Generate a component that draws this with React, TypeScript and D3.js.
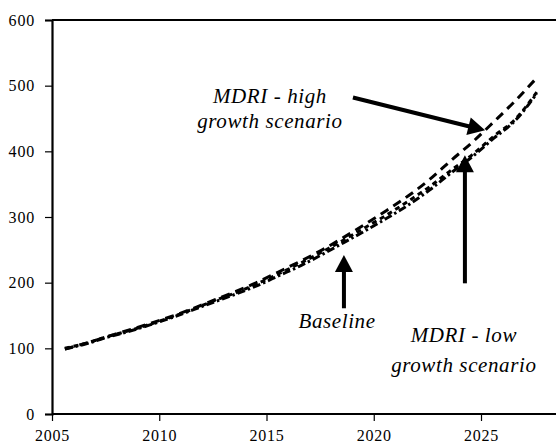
import { useEffect, useRef } from 'react';
import * as d3 from 'd3';

// values are plotted at mid-year
const years = [2005, 2006, 2007, 2008, 2009, 2010, 2011, 2012, 2013, 2014, 2015, 2016, 2017, 2018, 2019, 2020, 2021, 2022, 2023, 2024, 2025, 2026, 2027];
const highGrowth = [99, 108, 118, 128, 138, 149, 161, 174, 187, 201, 217, 233, 250, 269, 289, 310, 332, 357, 386, 414, 445, 477, 512];
const lowGrowth = [99, 107, 117, 126, 136, 147, 159, 171, 183, 196, 211, 226, 243, 261, 279, 298, 318, 341, 367, 392, 420, 447, 488];
const baseline = [100, 108, 118, 127, 137, 148, 160, 173, 185, 199, 214, 230, 247, 265, 284, 303, 324, 346, 371, 395, 423, 449, 490];

const xTicks = [2005, 2010, 2015, 2020, 2025];
const yTicks = [0, 100, 200, 300, 400, 500, 600];

// annotation arrows in data units: [fromYear, fromValue, toYear, toValue]
const arrows = [
  [2018.61, 161, 2018.61, 242],
  [2024.25, 199, 2024.25, 394],
  [2019.03, 482, 2025.19, 432],
];
const labels = [
  { text: 'MDRI - high', year: 2015.16, value: 473 },
  { text: 'growth scenario', year: 2015.16, value: 435 },
  { text: 'Baseline', year: 2018.29, value: 131 },
  { text: 'MDRI - low', year: 2024.2, value: 110 },
  { text: 'growth scenario', year: 2024.2, value: 64 },
];

const W = 556;
const H = 448;
const margin = { top: 20, left: 52, bottom: 34 };
const font = "'Liberation Serif', 'DejaVu Serif', serif";

export default function App() {
  const ref = useRef<SVGSVGElement | null>(null);

  useEffect(() => {
    if (!ref.current) return;
    const svg = d3.select(ref.current);
    svg.selectAll('*').remove();

    const x = d3.scaleLinear().domain([2005, 2025]).range([margin.left, 481]);
    const y = d3.scaleLinear().domain([0, 600]).range([H - margin.bottom, margin.top]);

    // top frame line
    svg.append('line')
      .attr('x1', margin.left).attr('x2', W)
      .attr('y1', y(600)).attr('y2', y(600))
      .attr('stroke', '#000').attr('stroke-width', 2);

    const yAxis = svg.append('g')
      .attr('transform', `translate(${margin.left},0)`)
      .call(d3.axisLeft(y).tickValues(yTicks).tickSize(7).tickPadding(10).tickFormat(d3.format('d')));
    const xAxis = svg.append('g')
      .attr('transform', `translate(0,${y(0)})`)
      .call(d3.axisBottom(x).tickValues(xTicks).tickSize(7).tickPadding(9).tickFormat(d3.format('d')));
    xAxis.select('.domain').attr('d', `M${margin.left},0H${W}`);

    [xAxis, yAxis].forEach(g => {
      g.attr('font-family', null).attr('font-size', null);
      g.select('.domain').attr('stroke', '#000').attr('stroke-width', 2.2);
      g.selectAll('.tick line').attr('stroke', '#000').attr('stroke-width', 1.2);
      g.selectAll('.tick text')
        .attr('fill', '#000')
        .style('font-family', font)
        .style('font-size', '16px')
        .style('letter-spacing', '0.8px');
    });

    const line = (vals: number[]) =>
      d3.line<number>()
        .x((_, i) => x(years[i] + 0.6))
        .y(d => y(d))
        .curve(d3.curveMonotoneX)(vals);

    const series = [
      { vals: lowGrowth, dash: '8,3,2.5,3' },
      { vals: baseline, dash: '5,4' },
      { vals: highGrowth, dash: '9,6' },
    ];
    series.forEach(s => {
      svg.append('path')
        .attr('d', line(s.vals))
        .attr('fill', 'none')
        .attr('stroke', '#000')
        .attr('stroke-width', 3)
        .attr('stroke-dasharray', s.dash);
    });

    arrows.forEach(([x0, v0, x1, v1]) => {
      const ax = x(x0), ay = y(v0), bx = x(x1), by = y(v1);
      const len = Math.hypot(bx - ax, by - ay);
      const ux = (bx - ax) / len, uy = (by - ay) / len;
      const head = 17, half = 9;
      const hx = bx - ux * head, hy = by - uy * head;
      svg.append('line')
        .attr('x1', ax).attr('y1', ay).attr('x2', hx + ux * 2).attr('y2', hy + uy * 2)
        .attr('stroke', '#000').attr('stroke-width', 4);
      svg.append('polygon')
        .attr('points', [
          [bx, by],
          [hx - uy * half, hy + ux * half],
          [hx + uy * half, hy - ux * half],
        ].map(p => p.join(',')).join(' '))
        .attr('fill', '#000');
    });

    labels.forEach(l => {
      svg.append('text')
        .attr('x', x(l.year))
        .attr('y', y(l.value))
        .attr('text-anchor', 'middle')
        .style('font-family', font)
        .style('font-style', 'italic')
        .style('font-size', '21px')
        .style('letter-spacing', '0.6px')
        .text(l.text);
    });
  }, []);

  return (
    <div style={{ position: 'absolute', left: 0, top: 0, fontFamily: font }}>
      <svg ref={ref} width={W} height={H} style={{ display: 'block', background: '#fff' }} />
    </div>
  );
}
